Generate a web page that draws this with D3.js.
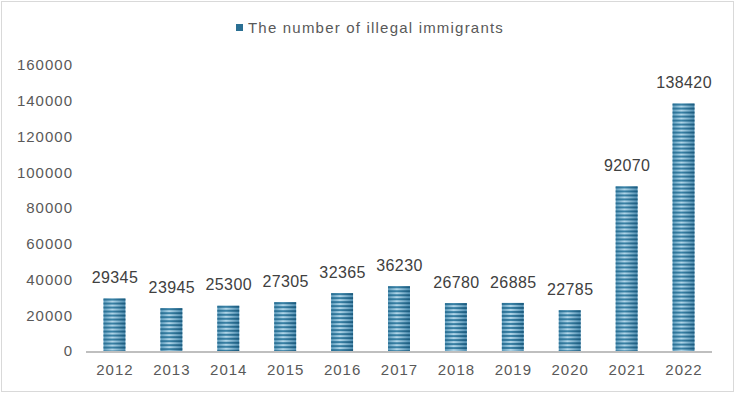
<!DOCTYPE html>
<html><head><meta charset="utf-8">
<script src="https://cdn.jsdelivr.net/npm/d3@7"></script>
<style>body{margin:0;background:#fff}svg{display:block;font-family:"Liberation Sans",Arial,sans-serif}</style>
</head><body>
<svg id="c" width="736" height="394"></svg>
<script>
const years = ["2012","2013","2014","2015","2016","2017","2018","2019","2020","2021","2022"];
const immigrants = [29345,23945,25300,27305,32365,36230,26780,26885,22785,92070,138420];
const yTicks = [0,20000,40000,60000,80000,100000,120000,140000,160000];
const seriesName = "The number of illegal immigrants";

const svg = d3.select("#c");
const W = 736, H = 394;
const m = {left:86, right:24, top:65, bottom:43};

svg.append("rect").attr("x",1.5).attr("y",1.5).attr("width",W-4).attr("height",H-4)
  .attr("fill","#fff").attr("stroke","#d9d9d9").attr("stroke-width",1);

const defs = svg.append("defs");
const g1 = defs.append("linearGradient").attr("id","lightG").attr("x1","0").attr("x2","1").attr("y1","0").attr("y2","0");
g1.append("stop").attr("offset","0").attr("stop-color","#5c9cbd");
g1.append("stop").attr("offset","0.4").attr("stop-color","#b2d6e8");
g1.append("stop").attr("offset","1").attr("stop-color","#4f8fb2");
const g2 = defs.append("linearGradient").attr("id","darkG").attr("x1","0").attr("x2","1").attr("y1","0").attr("y2","0");
g2.append("stop").attr("offset","0").attr("stop-color","#2a6f93");
g2.append("stop").attr("offset","0.4").attr("stop-color","#3a82a6");
g2.append("stop").attr("offset","1").attr("stop-color","#1b5a7d");

const x = d3.scaleBand().domain(years).range([m.left, W-m.right]).paddingInner(0.615).paddingOuter(0.3075);
const y = d3.scaleLinear().domain([0,160000]).range([H-m.bottom, m.top]);

// y tick labels
svg.append("g").selectAll("text").data(yTicks).join("text")
  .attr("x",73).attr("y",d=>y(d)).attr("dy","0.35em").attr("text-anchor","end")
  .attr("font-size",15).attr("letter-spacing",1).attr("fill","#595959").text(d=>d);

// bars
const bars = svg.append("g").selectAll("g").data(immigrants).join("g");
bars.each(function(d,i){
  const gx = x(years[i]), bw = x.bandwidth(), top = y(d), bot = y(0);
  const gg = d3.select(this);
  gg.append("rect").attr("x",gx).attr("y",top).attr("width",bw).attr("height",bot-top).attr("fill","url(#lightG)");
  const stripes = d3.range(top, bot, 4);
  gg.selectAll("rect.s").data(stripes).join("rect").attr("class","s")
    .attr("x",gx).attr("y",s=>s).attr("width",bw).attr("height",s=>Math.min(2, bot-s)).attr("fill","url(#darkG)");
});

// axis line
svg.append("line").attr("x1",m.left).attr("x2",W-m.right).attr("y1",y(0)+1).attr("y2",y(0)+1)
  .attr("stroke","#bfbfbf").attr("stroke-width",2);

// x labels
svg.append("g").selectAll("text").data(years).join("text")
  .attr("x",d=>x(d)+x.bandwidth()/2+0.5).attr("y",y(0)+19).attr("dy","0.35em").attr("text-anchor","middle")
  .attr("font-size",15).attr("letter-spacing",1).attr("fill","#595959").text(d=>d);

// data labels
svg.append("g").selectAll("text").data(immigrants).join("text")
  .attr("x",(d,i)=>x(years[i])+x.bandwidth()/2+0.5).attr("y",d=>y(d)-21).attr("dy","0.35em").attr("text-anchor","middle")
  .attr("font-size",16).attr("letter-spacing",0.4).attr("fill","#404040").text(d=>d);

// legend
const lg = svg.append("g");
lg.append("rect").attr("x",236).attr("y",24).attr("width",7).attr("height",7).attr("fill","#2a6f93");
lg.append("text").attr("x",248).attr("y",28).attr("dy","0.35em").attr("font-size",15).attr("letter-spacing",1.2).attr("fill","#595959").text(seriesName);
</script>
</body></html>
